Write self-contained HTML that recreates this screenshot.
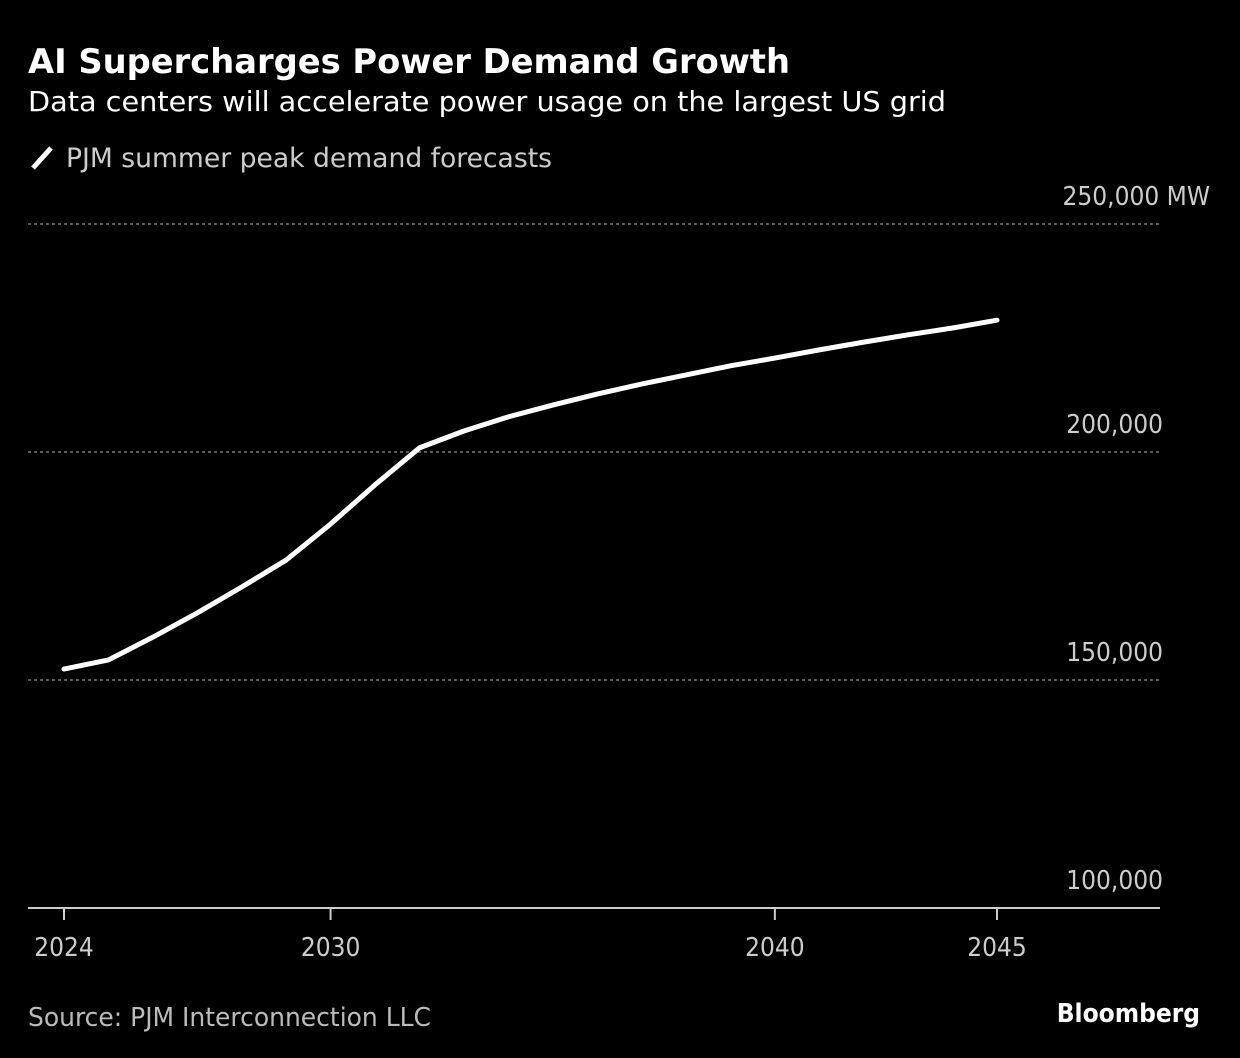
<!DOCTYPE html>
<html><head><meta charset="utf-8"><style>
html,body{margin:0;padding:0;background:#000;}
svg{display:block;}
text{font-family:"DejaVu Sans Condensed","DejaVu Sans","Liberation Sans",sans-serif;}
</style></head><body>
<svg id="chart" width="1240" height="1058" xmlns="http://www.w3.org/2000/svg">
<rect width="1240" height="1058" fill="#000"/>
<text x="28" y="73" fill="#fff" font-size="34" font-weight="bold" textLength="762" lengthAdjust="spacingAndGlyphs">AI Supercharges Power Demand Growth</text>
<text x="28" y="111" fill="#fff" font-size="28" textLength="918" lengthAdjust="spacingAndGlyphs">Data centers will accelerate power usage on the largest US grid</text>
<line x1="33" y1="168" x2="51" y2="148" stroke="#fff" stroke-width="5"/>
<text x="66" y="167" fill="#ccc" font-size="27" textLength="486" lengthAdjust="spacingAndGlyphs">PJM summer peak demand forecasts</text>
<g id="grid"></g><g id="xaxis"></g><g id="series"></g>
<text x="28" y="1026" fill="#bbb" font-size="26" textLength="403" lengthAdjust="spacingAndGlyphs">Source: PJM Interconnection LLC</text>
<text x="1200" y="1022" fill="#fff" font-size="26" font-weight="bold" text-anchor="end" font-family="Liberation Sans, sans-serif">Bloomberg</text>
</svg>
<script>
const years = [2024,2025,2026,2027,2028,2029,2030,2031,2032,2033,2034,2035,2036,2037,2038,2039,2040,2041,2042,2043,2044,2045];
const demand = [152400,154400,159400,164700,170400,176300,184200,192800,200900,204600,207700,210300,212700,214900,216900,218900,220600,222400,224100,225700,227200,228900];
const yTicks = [100000,150000,200000,250000];
const yTickLabels = ["100,000","150,000","200,000","250,000 MW"];
const xTicks = [2024,2030,2040,2045];
const NS="http://www.w3.org/2000/svg";
function xs(v){return 64+(v-2024)*(997-64)/21;}
function ys(v){return 908-(v-100000)*(908-224)/150000;}
function mk(tag,attrs,parent){const e=document.createElementNS(NS,tag);for(const k in attrs)e.setAttribute(k,attrs[k]);parent.appendChild(e);return e;}
const grid=document.getElementById('grid');
yTicks.forEach((t,i)=>{
  if(t>yTicks[0]){
    const l=mk('line',{x1:28,x2:1160,y1:ys(t),y2:ys(t),stroke:'#777','stroke-width':1.5,'stroke-dasharray':'3,3'},grid);
    
    
  }
  const tx=mk('text',{x:1163,y:ys(t)-19,fill:'#ccc','font-size':26,'text-anchor':'end'},grid);
  if(i===yTicks.length-1){tx.setAttribute('x',1210);}
  tx.textContent=yTickLabels[i];
  
  
});
const xa=document.getElementById('xaxis');
const base=mk('line',{x1:28,x2:1160,y1:908,y2:908,stroke:'#ccc','stroke-width':2},xa);


xTicks.forEach(t=>{
  const tk=mk('line',{x1:xs(t),x2:xs(t),y1:908,y2:920,stroke:'#ccc','stroke-width':2},xa);
  
  
  const tx=mk('text',{x:xs(t),y:956,fill:'#ccc','font-size':26,'text-anchor':'middle'},xa);
  tx.textContent=t;
  
  
});
const d=years.map((y,i)=>(i?'L':'M')+xs(y)+','+ys(demand[i])).join(' ');
const p=mk('path',{d:d,fill:'none',stroke:'#fff','stroke-width':5,'stroke-linejoin':'round','stroke-linecap':'round'},document.getElementById('series'));


</script>
</body></html>
